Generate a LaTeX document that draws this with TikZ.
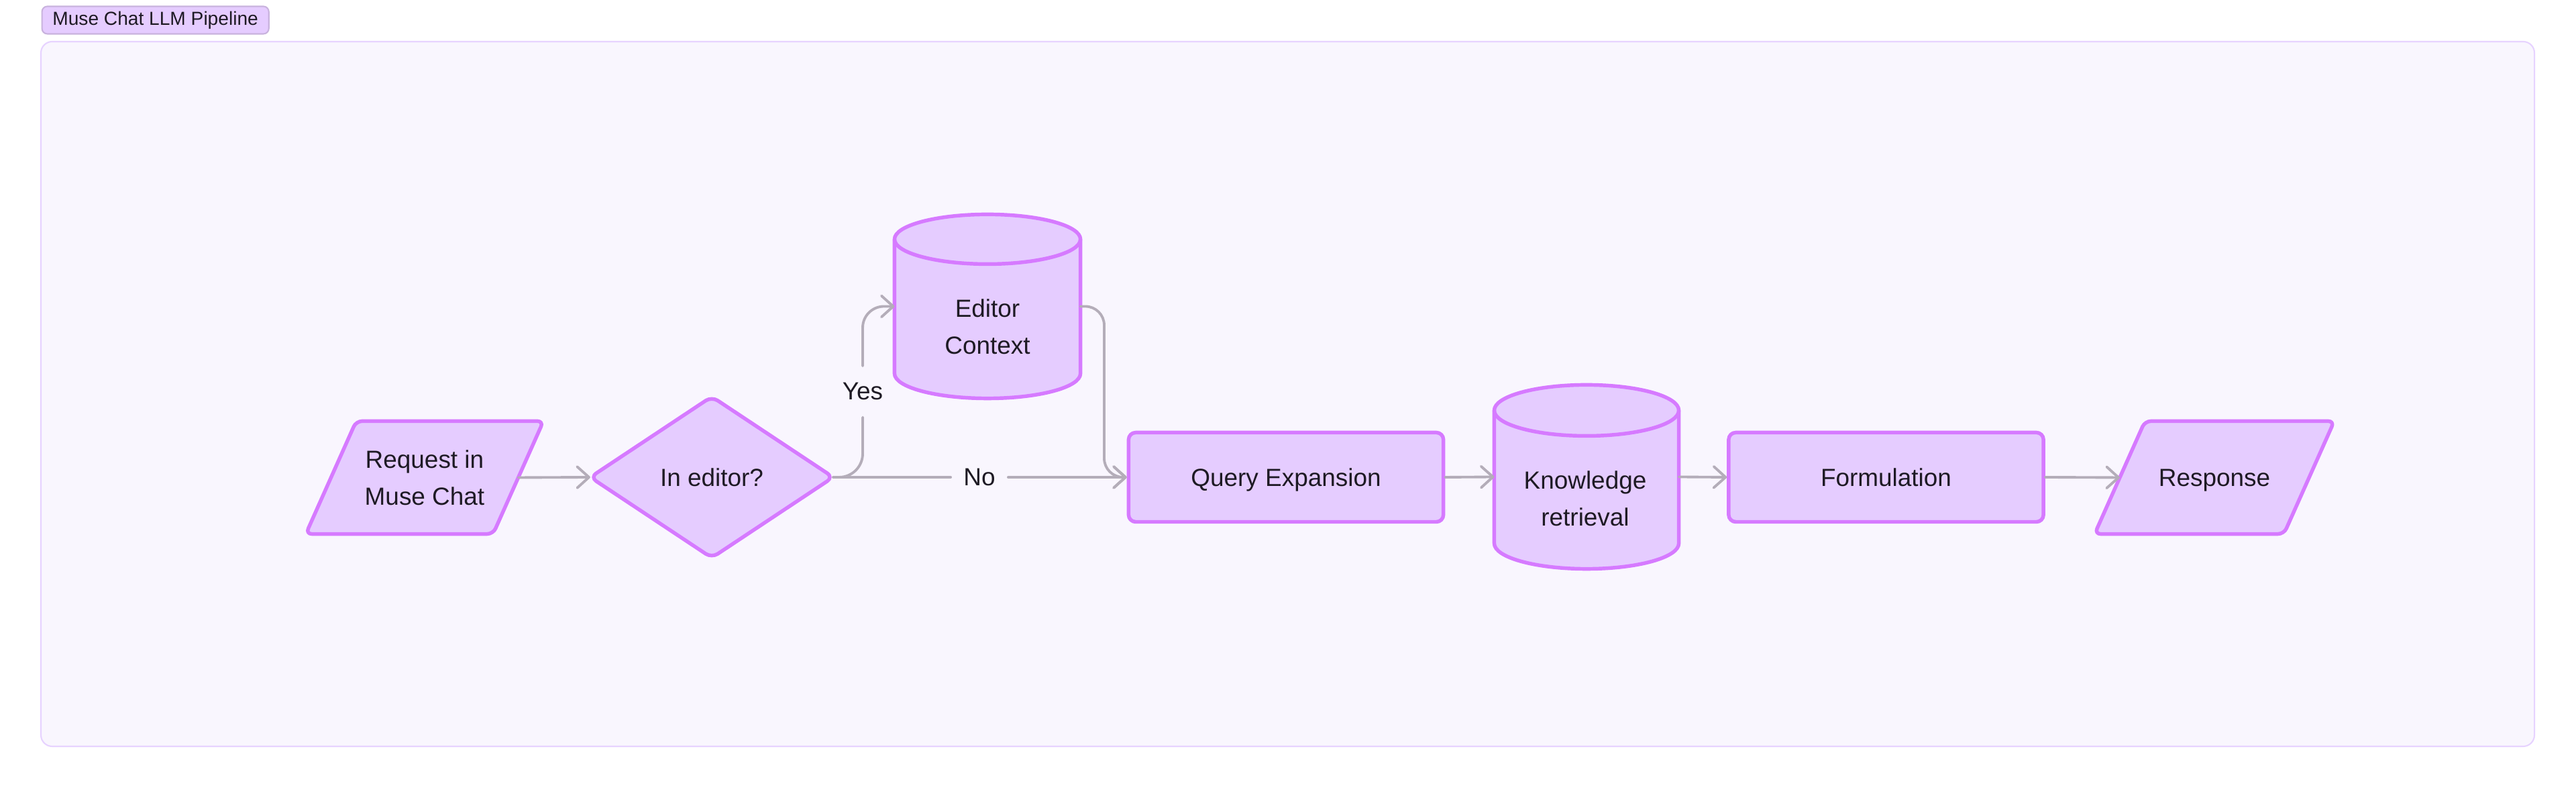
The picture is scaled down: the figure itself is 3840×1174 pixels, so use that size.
\documentclass[tikz,border=0pt]{standalone}
\usepackage{fontspec}
\setmainfont{Liberation Sans}
\usetikzlibrary{arrows.meta}
\definecolor{nodefill}{HTML}{E5CCFF}
\definecolor{nodeline}{HTML}{D67AFF}
\definecolor{panelfill}{HTML}{F9F6FE}
\definecolor{panelline}{HTML}{E7D3FF}
\definecolor{arrowc}{HTML}{B4ADB9}
\definecolor{txtc}{HTML}{1E1A24}
\definecolor{tagline}{HTML}{C9B3DE}
\pgfdeclarelayer{back}
\pgfdeclarelayer{mid}
\pgfsetlayers{back,mid,main}
\newcommand{\myparallelogram}[2]{%
  \begin{pgfonlayer}{mid}
  \draw[shp, rounded corners=2.5pt] ([xshift=#2]#1.north west) -- ([xshift=#2]#1.north east) -- ([xshift=-#2]#1.south east) -- ([xshift=-#2]#1.south west) -- cycle;
  \end{pgfonlayer}}
\newcommand{\mycylinder}[3]{%
  \begin{pgfonlayer}{mid}
  \draw[shp] ([yshift=-#3]#1.north west) -- ([yshift=#3]#1.south west) arc[start angle=180, end angle=360, x radius=#2, y radius=#3] -- ([yshift=-#3]#1.north east) arc[start angle=0, end angle=180, x radius=#2, y radius=#3] -- cycle;
  \draw[shp, fill=none] ([yshift=-#3]#1.north west) arc[start angle=180, end angle=360, x radius=#2, y radius=#3];
  \end{pgfonlayer}}
\tikzset{
  shp/.style={draw=nodeline, fill=nodefill, line width=1.55pt, line join=round},
  box/.style={rectangle, inner sep=0pt, outer sep=0pt},
  lbl/.style={text=txtc, font=\fontsize{10.5}{15.6}\selectfont, align=center},
  oneline/.style={text height=7.6pt, text depth=0pt},
  conn/.style={draw=arrowc, line width=1.1pt, line cap=round, -{Straight Barb[length=5pt, width=9pt, line cap=round, line join=round]}},
  seg/.style={draw=arrowc, line width=1.1pt, line cap=round},
  elbl/.style={text=txtc, font=\fontsize{10.5}{15.6}\selectfont, inner xsep=5.3pt, inner ysep=7pt}
}
\begin{document}
\begin{tikzpicture}[x=0.01cm, y=0.01cm]
\useasboundingbox (0,0) rectangle (3840,1174);
\begin{pgfonlayer}{back}
  \fill[white] (0,0) rectangle (3840,1174);
  \draw[draw=panelline, fill=panelfill, line width=0.6pt, rounded corners=4.8pt] (61,62) rectangle (3778,1112);
\end{pgfonlayer}
\node[draw=tagline, fill=nodefill, line width=0.6pt, rounded corners=2.3pt, anchor=west, inner xsep=4.5pt, inner ysep=0pt, minimum height=0.41cm, text=txtc, font=\fontsize{8}{9.6}\selectfont] (tag) at (61.5,1144) {Muse Chat LLM Pipeline};

% nodes
\node[box, lbl, minimum width=2.79cm, minimum height=1.68cm] (req) at (633,462.5) {Request in\\Muse Chat};
\myparallelogram{req}{0.375cm}

\node[box, lbl, oneline, minimum width=3.62cm, minimum height=2.40cm] (dia) at (1061,463) {In editor?};
\begin{pgfonlayer}{mid}
  \draw[shp, rounded corners=3pt] (dia.west) -- (dia.north) -- (dia.east) -- (dia.south) -- cycle;
\end{pgfonlayer}

\node[box, minimum width=2.77cm, minimum height=2.74cm] (ec) at (1472,717.5) {};
\mycylinder{ec}{1.385cm}{0.37cm}
\node[lbl] (ectxt) at (1472,687) {Editor\\Context};

\node[shp, lbl, oneline, rounded corners=3pt, minimum width=4.69cm, minimum height=1.33cm] (qe) at (1917,463) {Query Expansion};

\node[box, minimum width=2.75cm, minimum height=2.74cm] (kr) at (2365,463.5) {};
\mycylinder{kr}{1.375cm}{0.38cm}
\node[lbl] (krtxt) at (2363,431) {Knowledge\\retrieval};

\node[shp, lbl, oneline, rounded corners=3pt, minimum width=4.69cm, minimum height=1.33cm] (form) at (2811.5,463) {Formulation};

\node[box, lbl, oneline, minimum width=2.82cm, minimum height=1.68cm] (resp) at (3301,462.5) {Response};
\myparallelogram{resp}{0.375cm}

% edge labels
\node[elbl] (yes) at (1286,590.5) {Yes};
\node[elbl] (no) at (1460,463) {No};

% connectors
\draw[conn] (req.east) -- (dia.west);
\draw[seg, rounded corners=10pt] (dia.east) -| (yes.south);
\draw[conn, rounded corners=9pt] (yes.north) |- (ec.west);
\draw[seg] (dia.east) -- (no.west);
\draw[conn] (no.east) -- (qe.west);
\coordinate (ecturn) at (1646,717.5);
\draw[conn, rounded corners=8pt] (ec.east) -- (ecturn) |- (qe.west);
\draw[conn] (qe.east) -- (kr.west);
\draw[conn] (kr.east) -- (form.west);
\draw[conn] (form.east) -- (resp.west);
\end{tikzpicture}
\end{document}
